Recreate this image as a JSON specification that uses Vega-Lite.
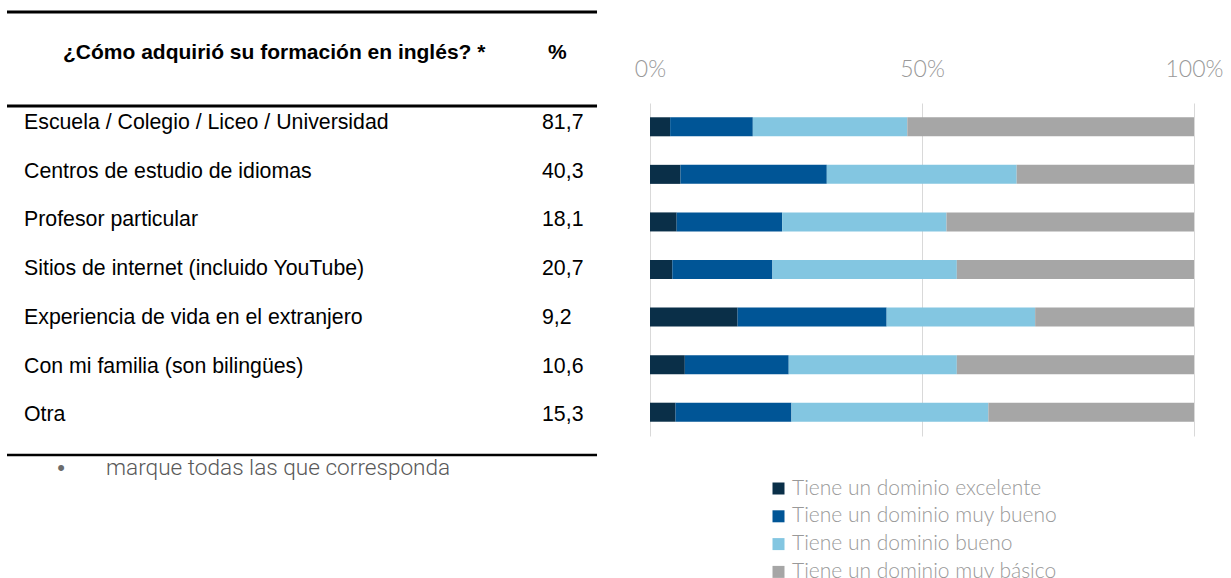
{
  "$schema": "https://vega.github.io/schema/vega-lite/v6.json",
  "width": 1187,
  "height": 333,
  "autosize": {"type": "none"},
  "padding": {"left": 7, "top": 103, "right": 37, "bottom": 142},
  "background": "white",
  "config": {"view": {"stroke": null}},
  "datasets": {
    "tabla": [
      {"orden": 1, "medio": "Escuela / Colegio / Liceo / Universidad", "pct": "81,7"},
      {"orden": 2, "medio": "Centros de estudio de idiomas", "pct": "40,3"},
      {"orden": 3, "medio": "Profesor particular", "pct": "18,1"},
      {"orden": 4, "medio": "Sitios de internet (incluido YouTube)", "pct": "20,7"},
      {"orden": 5, "medio": "Experiencia de vida en el extranjero", "pct": "9,2"},
      {"orden": 6, "medio": "Con mi familia (son bilingües)", "pct": "10,6"},
      {"orden": 7, "medio": "Otra", "pct": "15,3"}
    ],
    "dominio": [
      {"medio": "Escuela / Colegio / Liceo / Universidad", "nivel": "Tiene un dominio excelente", "k": 1, "valor": 3.7},
      {"medio": "Escuela / Colegio / Liceo / Universidad", "nivel": "Tiene un dominio muy bueno", "k": 2, "valor": 15.2},
      {"medio": "Escuela / Colegio / Liceo / Universidad", "nivel": "Tiene un dominio bueno", "k": 3, "valor": 28.4},
      {"medio": "Escuela / Colegio / Liceo / Universidad", "nivel": "Tiene un dominio muy básico", "k": 4, "valor": 52.7},
      {"medio": "Centros de estudio de idiomas", "nivel": "Tiene un dominio excelente", "k": 1, "valor": 5.6},
      {"medio": "Centros de estudio de idiomas", "nivel": "Tiene un dominio muy bueno", "k": 2, "valor": 26.9},
      {"medio": "Centros de estudio de idiomas", "nivel": "Tiene un dominio bueno", "k": 3, "valor": 34.9},
      {"medio": "Centros de estudio de idiomas", "nivel": "Tiene un dominio muy básico", "k": 4, "valor": 32.6},
      {"medio": "Profesor particular", "nivel": "Tiene un dominio excelente", "k": 1, "valor": 4.9},
      {"medio": "Profesor particular", "nivel": "Tiene un dominio muy bueno", "k": 2, "valor": 19.4},
      {"medio": "Profesor particular", "nivel": "Tiene un dominio bueno", "k": 3, "valor": 30.2},
      {"medio": "Profesor particular", "nivel": "Tiene un dominio muy básico", "k": 4, "valor": 45.5},
      {"medio": "Sitios de internet (incluido YouTube)", "nivel": "Tiene un dominio excelente", "k": 1, "valor": 4.1},
      {"medio": "Sitios de internet (incluido YouTube)", "nivel": "Tiene un dominio muy bueno", "k": 2, "valor": 18.4},
      {"medio": "Sitios de internet (incluido YouTube)", "nivel": "Tiene un dominio bueno", "k": 3, "valor": 33.9},
      {"medio": "Sitios de internet (incluido YouTube)", "nivel": "Tiene un dominio muy básico", "k": 4, "valor": 43.6},
      {"medio": "Experiencia de vida en el extranjero", "nivel": "Tiene un dominio excelente", "k": 1, "valor": 16.1},
      {"medio": "Experiencia de vida en el extranjero", "nivel": "Tiene un dominio muy bueno", "k": 2, "valor": 27.4},
      {"medio": "Experiencia de vida en el extranjero", "nivel": "Tiene un dominio bueno", "k": 3, "valor": 27.3},
      {"medio": "Experiencia de vida en el extranjero", "nivel": "Tiene un dominio muy básico", "k": 4, "valor": 29.2},
      {"medio": "Con mi familia (son bilingües)", "nivel": "Tiene un dominio excelente", "k": 1, "valor": 6.4},
      {"medio": "Con mi familia (son bilingües)", "nivel": "Tiene un dominio muy bueno", "k": 2, "valor": 19.1},
      {"medio": "Con mi familia (son bilingües)", "nivel": "Tiene un dominio bueno", "k": 3, "valor": 30.9},
      {"medio": "Con mi familia (son bilingües)", "nivel": "Tiene un dominio muy básico", "k": 4, "valor": 43.6},
      {"medio": "Otra", "nivel": "Tiene un dominio excelente", "k": 1, "valor": 4.7},
      {"medio": "Otra", "nivel": "Tiene un dominio muy bueno", "k": 2, "valor": 21.3},
      {"medio": "Otra", "nivel": "Tiene un dominio bueno", "k": 3, "valor": 36.2},
      {"medio": "Otra", "nivel": "Tiene un dominio muy básico", "k": 4, "valor": 37.8}
    ]
  },
  "layer": [
    {
      "layer": [
        {
          "data": {"name": "tabla"},
          "mark": {"type": "text", "align": "left", "baseline": "middle", "font": "Liberation Sans", "fontSize": 21.3, "color": "#000000"},
          "encoding": {
            "x": {"datum": -115.07, "type": "quantitative"},
            "y": {"field": "orden", "type": "quantitative", "scale": {"domain": [0.589, 7.427], "reverse": true, "nice": false, "zero": false}, "axis": null},
            "text": {"field": "medio"}
          }
        },
        {
          "data": {"name": "tabla"},
          "mark": {"type": "text", "align": "left", "baseline": "middle", "font": "Liberation Sans", "fontSize": 21.3, "color": "#000000"},
          "encoding": {
            "x": {"datum": -19.85, "type": "quantitative"},
            "y": {"field": "orden", "type": "quantitative"},
            "text": {"field": "pct"}
          }
        },
        {
          "data": {"values": [{}]},
          "mark": {"type": "rule", "color": "#000000", "strokeWidth": 3},
          "encoding": {
            "x": {"datum": -118.2, "type": "quantitative"},
            "x2": {"datum": -9.74},
            "y": {"datum": -1.279, "type": "quantitative"}
          }
        },
        {
          "data": {"values": [{}]},
          "mark": {"type": "rule", "color": "#000000", "strokeWidth": 3},
          "encoding": {
            "x": {"datum": -118.2, "type": "quantitative"},
            "x2": {"datum": -9.74},
            "y": {"datum": 0.651, "type": "quantitative"}
          }
        },
        {
          "data": {"values": [{}]},
          "mark": {"type": "rule", "color": "#000000", "strokeWidth": 2.5},
          "encoding": {
            "x": {"datum": -118.2, "type": "quantitative"},
            "x2": {"datum": -9.74},
            "y": {"datum": 7.817, "type": "quantitative"}
          }
        },
        {
          "data": {"values": [{}]},
          "mark": {"type": "text", "text": "¿Cómo adquirió su formación en inglés? *", "align": "left", "baseline": "middle", "font": "Liberation Sans", "fontWeight": "bold", "fontSize": 21, "color": "#000000"},
          "encoding": {
            "x": {"datum": -107.9, "type": "quantitative"},
            "y": {"datum": -0.437, "type": "quantitative"}
          }
        },
        {
          "data": {"values": [{}]},
          "mark": {"type": "text", "text": "%", "align": "left", "baseline": "middle", "font": "Liberation Sans", "fontWeight": "bold", "fontSize": 21, "color": "#000000"},
          "encoding": {
            "x": {"datum": -18.75, "type": "quantitative"},
            "y": {"datum": -0.437, "type": "quantitative"}
          }
        },
        {
          "data": {"values": [{}]},
          "mark": {"type": "text", "text": "•", "align": "center", "baseline": "middle", "font": "Liberation Sans", "fontSize": 22, "color": "#6b6b6b"},
          "encoding": {
            "x": {"datum": -108.27, "type": "quantitative"},
            "y": {"datum": 8.084, "type": "quantitative"}
          }
        },
        {
          "data": {"values": [{}]},
          "mark": {"type": "text", "text": "marque todas las que corresponda", "align": "left", "baseline": "middle", "font": "Roboto", "fontWeight": 300, "fontSize": 22.6, "color": "#595959"},
          "encoding": {
            "x": {"datum": -100.0, "type": "quantitative"},
            "y": {"datum": 8.084, "type": "quantitative"}
          }
        }
      ]
    },
    {
      "data": {"name": "dominio"},
      "mark": {"type": "bar"},
      "encoding": {
        "x": {
          "field": "valor", "type": "quantitative", "stack": "zero",
          "scale": {"domain": [-118.2, 100], "nice": false, "zero": false},
          "axis": {
            "orient": "top", "values": [0, 50, 100], "labelExpr": "datum.value + '%'",
            "domain": false, "ticks": false, "tickSize": 0, "grid": true, "gridColor": "#d9d9d9", "gridWidth": 1,
            "labelFont": "Lato", "labelFontWeight": 300, "labelFontSize": 23, "labelColor": "#999999",
            "labelPadding": 22, "labelFlush": false, "labelOverlap": false, "title": null
          }
        },
        "y": {
          "field": "medio", "type": "nominal", "sort": null,
          "scale": {"paddingInner": 0.6, "paddingOuter": 0.3},
          "axis": null
        },
        "color": {
          "field": "nivel", "type": "nominal",
          "sort": ["Tiene un dominio excelente", "Tiene un dominio muy bueno", "Tiene un dominio bueno", "Tiene un dominio muy básico"],
          "scale": {
            "domain": ["Tiene un dominio excelente", "Tiene un dominio muy bueno", "Tiene un dominio bueno", "Tiene un dominio muy básico"],
            "range": ["#0a2f48", "#005596", "#83c6e1", "#a6a6a6"]
          },
          "legend": {
            "orient": "none", "legendX": 761, "legendY": 375, "title": null, "padding": 0,
            "symbolType": "square", "symbolSize": 144, "symbolStrokeWidth": 0, "symbolOpacity": 1,
            "labelFont": "Lato", "labelFontWeight": 300, "labelFontSize": 21, "labelColor": "#999999",
            "labelOffset": 3, "rowPadding": 5.8, "labelLimit": 400
          }
        },
        "order": {"field": "k", "type": "quantitative"}
      }
    }
  ],
  "resolve": {"scale": {"y": "independent"}}
}
